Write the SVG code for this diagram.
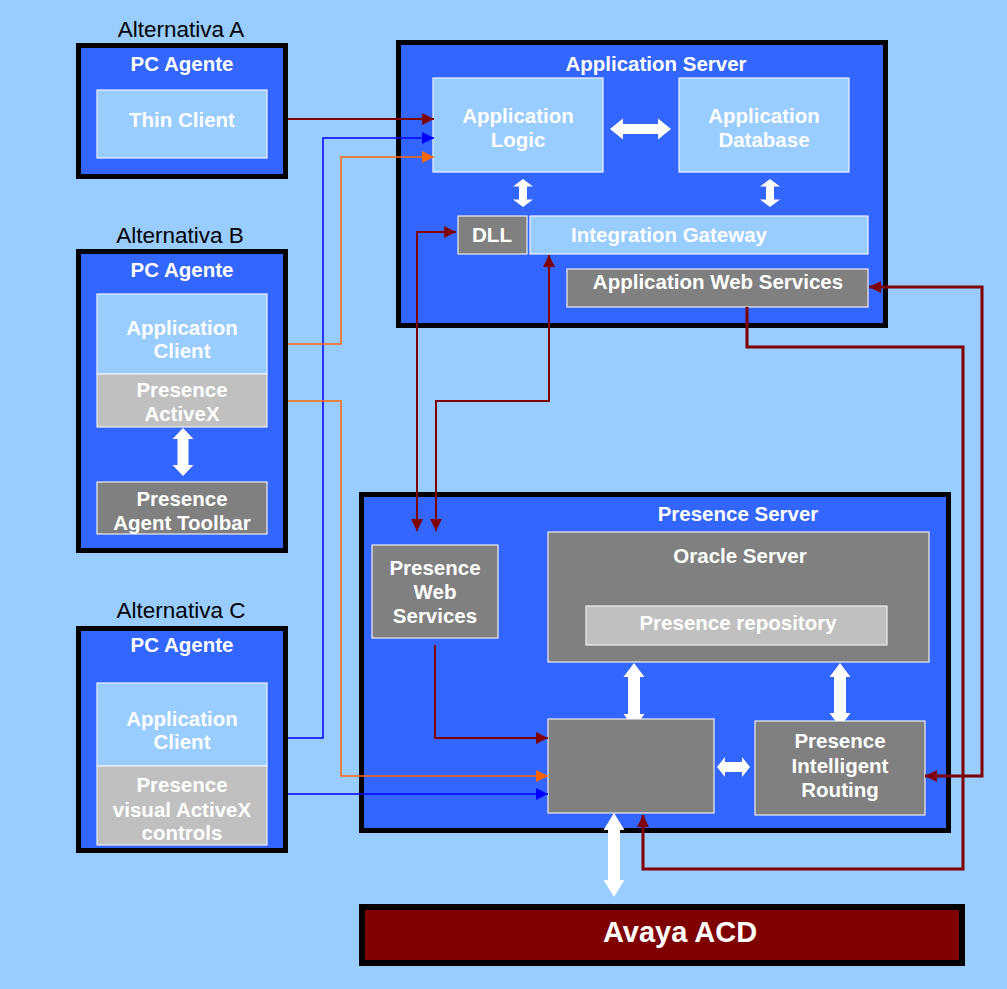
<svg xmlns="http://www.w3.org/2000/svg" width="1007" height="989" viewBox="0 0 1007 989">
<style>
.frame{fill:#3366FF;stroke:#000;stroke-width:5}
.lb{fill:#99CCFF;stroke:#EEF4FF;stroke-width:1.2}
.gr{fill:#808080;stroke:#EEEEEE;stroke-width:1.2}
.lg{fill:#C0C0C0;stroke:#EEEEEE;stroke-width:1.2}
.t{font-family:"Liberation Sans",Arial,sans-serif;font-weight:bold;font-size:20.5px;fill:#fff;text-anchor:middle}
.alt{font-family:"Liberation Sans",Arial,sans-serif;font-size:22.5px;fill:#000;text-anchor:middle}
.wa{fill:#fff}
.red{fill:none;stroke:#800000;stroke-width:2}
.red3{fill:none;stroke:#800000;stroke-width:3}
.blue{fill:none;stroke:#0000FF;stroke-width:1.5}
.orange{fill:none;stroke:#FF6600;stroke-width:1.5}
</style>
<defs>
<marker id="mr" markerUnits="userSpaceOnUse" markerWidth="12" markerHeight="12" refX="12" refY="6" orient="auto-start-reverse"><path d="M0,0 L12,6 L0,12 z" fill="#800000"/></marker>
<marker id="mb" markerUnits="userSpaceOnUse" markerWidth="12" markerHeight="12" refX="12" refY="6" orient="auto-start-reverse"><path d="M0,0 L12,6 L0,12 z" fill="#0000FF"/></marker>
<marker id="mo" markerUnits="userSpaceOnUse" markerWidth="12" markerHeight="12" refX="12" refY="6" orient="auto-start-reverse"><path d="M0,0 L12,6 L0,12 z" fill="#FF6600"/></marker>
</defs>
<rect x="0" y="0" width="1007" height="989" fill="#99CCFF"/>

<g id="alt-a">
<text class="alt" x="181" y="37">Alternativa A</text>
<rect class="frame" x="78.5" y="45.5" width="207" height="131"/>
<text class="t" x="182" y="71">PC Agente</text>
<rect class="lb" x="97" y="90" width="170" height="68"/>
<text class="t" x="182" y="127">Thin Client</text>
</g>

<g id="alt-b">
<text class="alt" x="180" y="243">Alternativa B</text>
<rect class="frame" x="78.5" y="251.5" width="207" height="299"/>
<text class="t" x="182" y="277">PC Agente</text>
<rect class="lb" x="97" y="294" width="170" height="80"/>
<text class="t" x="182" y="335">Application</text>
<text class="t" x="182" y="358">Client</text>
<rect class="lg" x="97" y="374" width="170" height="53"/>
<text class="t" x="182" y="397">Presence</text>
<text class="t" x="182" y="421">ActiveX</text>
<polygon class="wa" points="183,428 193.5,439 188.5,439 188.5,465 193.5,465 183,476 172.5,465 177.5,465 177.5,439 172.5,439"/>
<rect class="gr" x="97" y="482" width="170" height="52"/>
<text class="t" x="182" y="506">Presence</text>
<text class="t" x="182" y="530">Agent Toolbar</text>
</g>

<g id="alt-c">
<text class="alt" x="181" y="618">Alternativa C</text>
<rect class="frame" x="78.5" y="628.5" width="207" height="222"/>
<text class="t" x="182" y="652">PC Agente</text>
<rect class="lb" x="97" y="683" width="170" height="83"/>
<text class="t" x="182" y="726">Application</text>
<text class="t" x="182" y="749">Client</text>
<rect class="lg" x="97" y="766" width="170" height="79"/>
<text class="t" x="182" y="792">Presence</text>
<text class="t" x="182" y="817">visual ActiveX</text>
<text class="t" x="182" y="840">controls</text>
</g>

<g id="app-server">
<rect class="frame" x="398.5" y="42.5" width="487" height="283"/>
<text class="t" x="656" y="71">Application Server</text>
<rect class="lb" x="433" y="78" width="170" height="94"/>
<text class="t" x="518" y="123">Application</text>
<text class="t" x="518" y="147">Logic</text>
<rect class="lb" x="679" y="78" width="170" height="94"/>
<text class="t" x="764" y="123">Application</text>
<text class="t" x="764" y="147">Database</text>
<polygon class="wa" points="610,129 623,118.5 623,124 658,124 658,118.5 671,129 658,139.5 658,134 623,134 623,139.5"/>
<polygon class="wa" points="523,179 533,186.5 527,186.5 527,199.5 533,199.5 523,207 513,199.5 519,199.5 519,186.5 513,186.5"/>
<polygon class="wa" points="770,179 780,186.5 774,186.5 774,199.5 780,199.5 770,207 760,199.5 766,199.5 766,186.5 760,186.5"/>
<rect class="gr" x="458" y="216" width="69" height="38"/>
<text class="t" x="492" y="242">DLL</text>
<rect class="lb" x="530" y="216" width="338" height="38"/>
<text class="t" x="669" y="242">Integration Gateway</text>
<rect class="gr" x="567" y="269" width="301" height="38"/>
<text class="t" x="718" y="289">Application Web Services</text>
</g>

<g id="presence-server">
<rect class="frame" x="361.5" y="494.5" width="587" height="336"/>
<text class="t" x="738" y="521">Presence Server</text>
<rect class="gr" x="372" y="545" width="126" height="93"/>
<text class="t" x="435" y="575">Presence</text>
<text class="t" x="435" y="599">Web</text>
<text class="t" x="435" y="623">Services</text>
<rect class="gr" x="548" y="532" width="381" height="130"/>
<text class="t" x="740" y="563">Oracle Server</text>
<rect class="lg" x="586" y="606" width="301" height="39"/>
<text class="t" x="738" y="630">Presence repository</text>
<polygon class="wa" points="634,663 644.5,677 640,677 640,714 644.5,714 634,728 623.5,714 628,714 628,677 623.5,677"/>
<polygon class="wa" points="840,663 850.5,677 846,677 846,713 850.5,713 840,727 829.5,713 834,713 834,677 829.5,677"/>
<rect class="gr" x="548" y="719" width="166" height="94"/>
<polygon class="wa" points="717,767 725,757 725,762 742,762 742,757 750,767 742,777 742,772 725,772 725,777"/>
<rect class="gr" x="755" y="721" width="170" height="94"/>
<text class="t" x="840" y="748">Presence</text>
<text class="t" x="840" y="773">Intelligent</text>
<text class="t" x="840" y="797">Routing</text>
</g>

<g id="avaya">
<polygon class="wa" points="614,813 624.5,830 620,830 620,880 624.5,880 614,897 603.5,880 608,880 608,830 603.5,830"/>
<rect x="362" y="907" width="600" height="56" fill="#7F0000" stroke="#000" stroke-width="6"/>
<text class="t" x="680" y="942" style="font-size:29px">Avaya ACD</text>
</g>

<g id="connectors">
<path class="red" d="M288,119 H434" marker-end="url(#mr)"/>
<path class="blue" d="M288,738 H323 V138 H434" marker-end="url(#mb)"/>
<path class="orange" d="M288,344 H341 V157 H434" marker-end="url(#mo)"/>
<path class="orange" d="M288,401 H341 V776 H548" marker-end="url(#mo)"/>
<path class="blue" d="M288,794 H548" marker-end="url(#mb)"/>
<path class="red" d="M456,232 H417 V531" marker-start="url(#mr)" marker-end="url(#mr)"/>
<path class="red" d="M549,255 V401 H436 V531" marker-start="url(#mr)" marker-end="url(#mr)"/>
<path class="red" d="M435,645 V738 H548" marker-end="url(#mr)"/>
<path class="red3" d="M869,287 H982 V776 H925" marker-start="url(#mr)" marker-end="url(#mr)"/>
<path class="red3" d="M747,307 V347 H963 V869 H643 V815" marker-end="url(#mr)"/>
</g>
</svg>
